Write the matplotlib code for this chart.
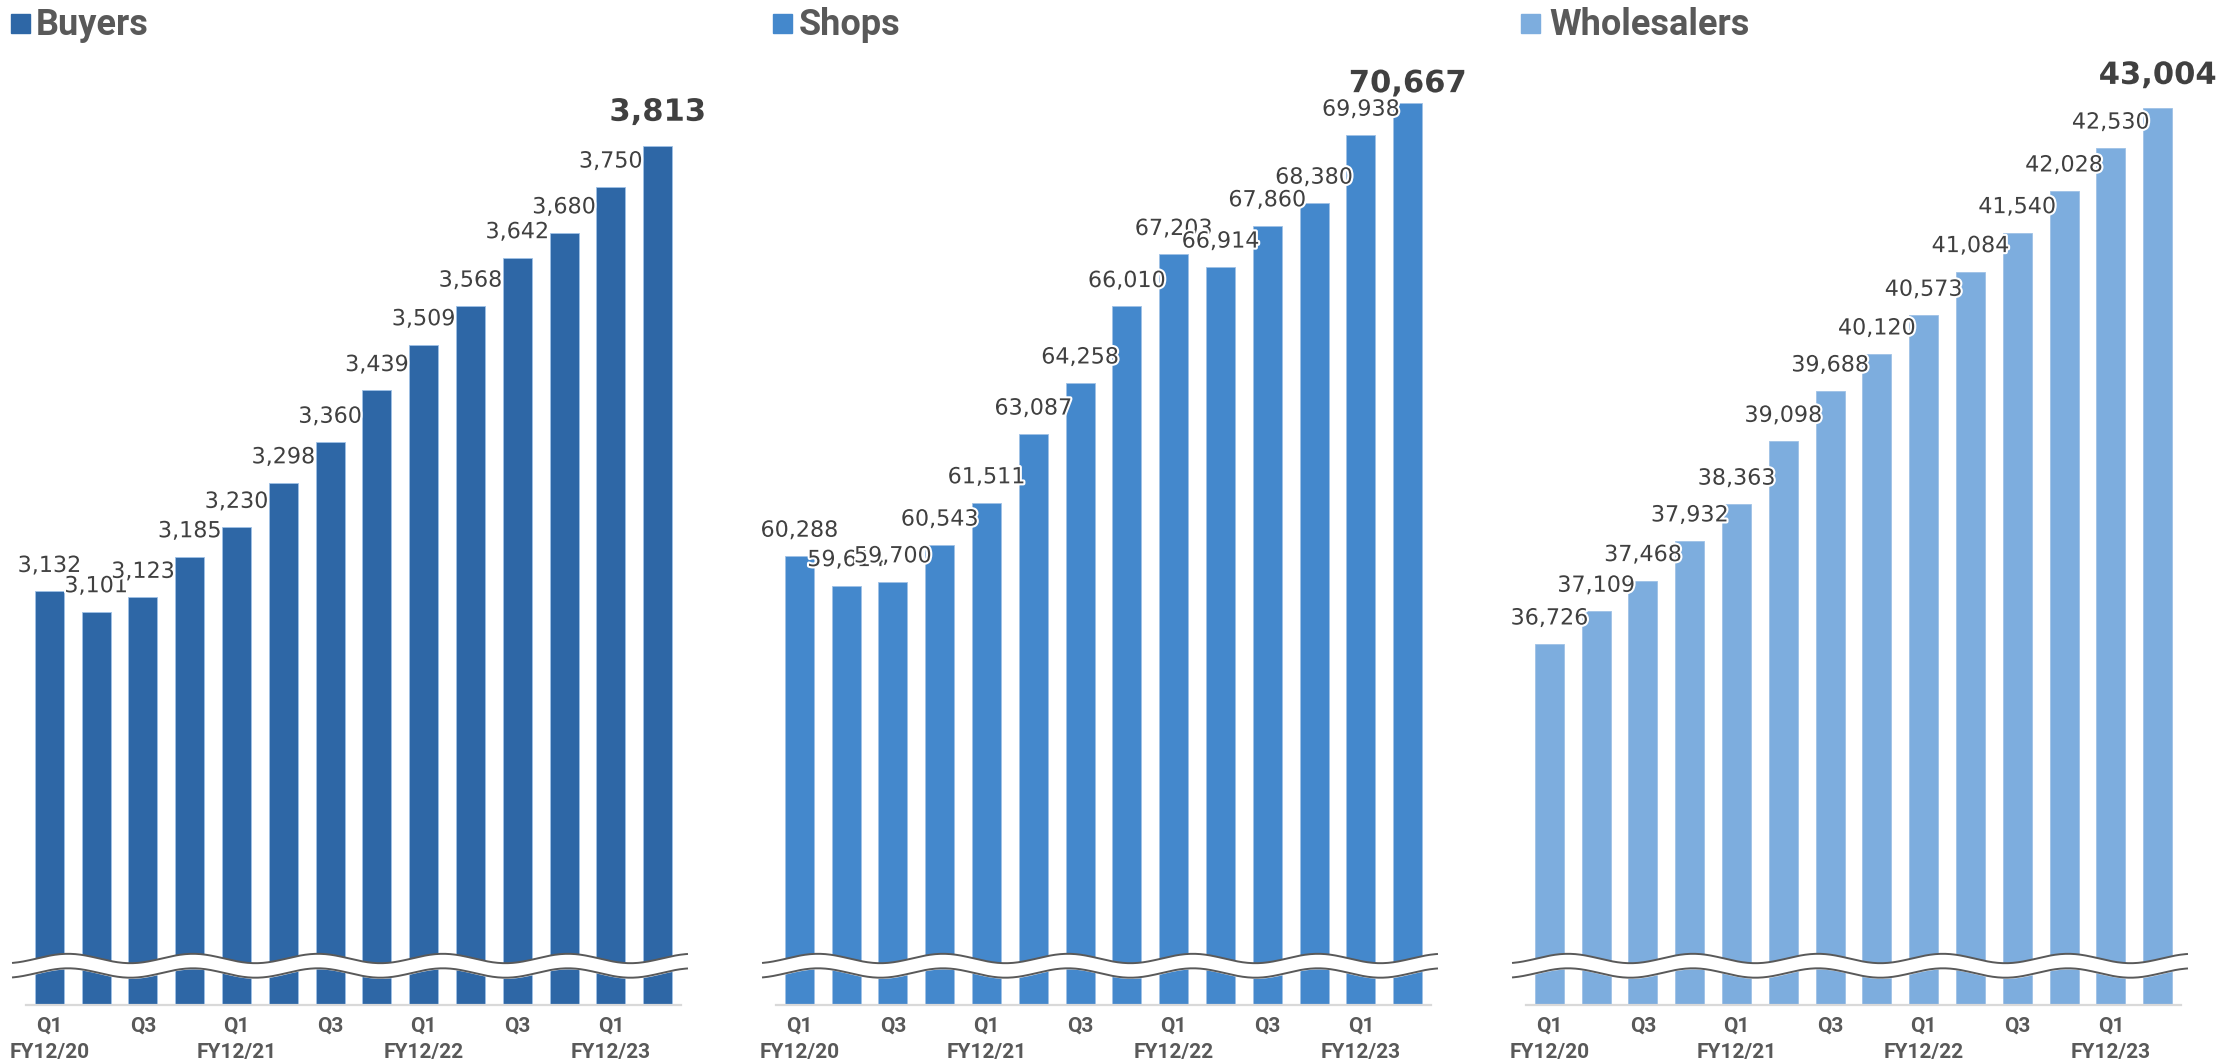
import matplotlib.pyplot as plt
import matplotlib.patheffects as pe
from matplotlib.patches import Rectangle
import numpy as np

# Quarterly counts, Q1 FY12/20 .. Q2 FY12/23
fiscal_years = ["FY12/20", "FY12/21", "FY12/22", "FY12/23"]
quarter_names = ["Q1", "Q2", "Q3", "Q4"]
buyers = [3132, 3101, 3123, 3185, 3230, 3298, 3360, 3439, 3509, 3568, 3642, 3680, 3750, 3813]
shops = [60288, 59614, 59700, 60543, 61511, 63087, 64258, 66010, 67203, 66914, 67860, 68380, 69938, 70667]
wholesalers = [36726, 37109, 37468, 37932, 38363, 39098, 39688, 40120, 40573, 41084, 41540, 42028, 42530, 43004]

panel_titles = ["Buyers", "Shops", "Wholesalers"]
panel_values = [buyers, shops, wholesalers]
panel_colors = ["#2E67A6", "#4488CC", "#7DADDE"]
# truncated value axes (the wavy break marks the cut)
y_floor = [2500, 50000, 32500]
y_ceiling = [3944, 71659, 43560]

W, H = 2219, 1064
text_dark = "#404040"
text_grey = "#595959"

fig = plt.figure(figsize=(W / 100, H / 100), dpi=100)

# axes boxes in pixels: left, top, right, bottom
ax_left = [26, 776, 1526]
ax_width = 655
ax_top, ax_bottom = 60, 1005
square_left = [11, 773, 1521]
title_left = [36, 799, 1549]
top_offset = [18, 8, 17]

periods = [(fy, q) for fy in fiscal_years for q in quarter_names][:len(buyers)]
tick_pos, tick_lab = [], []
for i, (fy, q) in enumerate(periods):
    if q == "Q1":
        tick_pos.append(i); tick_lab.append(f"Q1\n{fy}")
    elif q == "Q3":
        tick_pos.append(i); tick_lab.append("Q3")

for k in range(3):
    ax = fig.add_axes([ax_left[k] / W, 1 - ax_bottom / H, ax_width / W, (ax_bottom - ax_top) / H])
    vals = np.array(panel_values[k])
    x = np.arange(len(vals))
    ax.bar(x, vals - y_floor[k], bottom=y_floor[k], width=0.62, color=panel_colors[k],
           edgecolor="#9FC1E6", linewidth=0.6, zorder=2)
    ax.set_xlim(-0.5, len(vals) - 0.5)
    ax.set_ylim(y_floor[k], y_ceiling[k])

    # value labels, last quarter highlighted
    for i, v in enumerate(vals):
        last = i == len(vals) - 1
        ax.annotate(f"{v:,}", (x[i], v), xytext=(0, top_offset[k] if last else 14),
                    textcoords="offset points", ha="center", va="baseline",
                    fontsize=22 if last else 16, fontweight="bold" if last else "normal",
                    color=text_dark, zorder=5,
                    path_effects=[pe.withStroke(linewidth=3, foreground="white")])

    for s in ["top", "right", "left"]:
        ax.spines[s].set_visible(False)
    ax.spines["bottom"].set_color("#D9D9D9")
    ax.spines["bottom"].set_linewidth(1.6)
    ax.set_yticks([])
    ax.set_xticks(tick_pos)
    ax.set_xticklabels(tick_lab)
    ax.tick_params(axis="x", length=0, pad=8.5, labelsize=15, labelcolor=text_grey)
    for lbl in ax.get_xticklabels():
        lbl.set_fontfamily("Roboto")
        lbl.set_fontweight("bold")
        lbl.set_linespacing(1.5)

    # wavy axis break near the bottom
    h = ax_bottom - ax_top
    xs = np.linspace(-13 / ax_width, 1 + 6 / ax_width, 400)
    wave = 4.7 / h * np.cos(2 * np.pi * (xs - 42 / ax_width) / (125 / ax_width))
    upper = 46.5 / h + wave
    lower = 32 / h + wave
    ax.fill_between(xs, lower, upper, color="white", transform=ax.transAxes, clip_on=False, zorder=3)
    ax.plot(xs, upper, color=text_grey, lw=1.4, transform=ax.transAxes, clip_on=False, zorder=4)
    ax.plot(xs, lower, color=text_grey, lw=1.4, transform=ax.transAxes, clip_on=False, zorder=4)

    # panel title with coloured square
    fig.add_artist(Rectangle((square_left[k] / W, 1 - 33 / H), 19 / W, 19 / H,
                             transform=fig.transFigure, color=panel_colors[k]))
    fig.text(title_left[k] / W, 1 - 35 / H, panel_titles[k], fontsize=26, fontweight="bold",
             family="Roboto", color=text_grey, ha="left", va="baseline")

fig.savefig("out.png", dpi=100)
